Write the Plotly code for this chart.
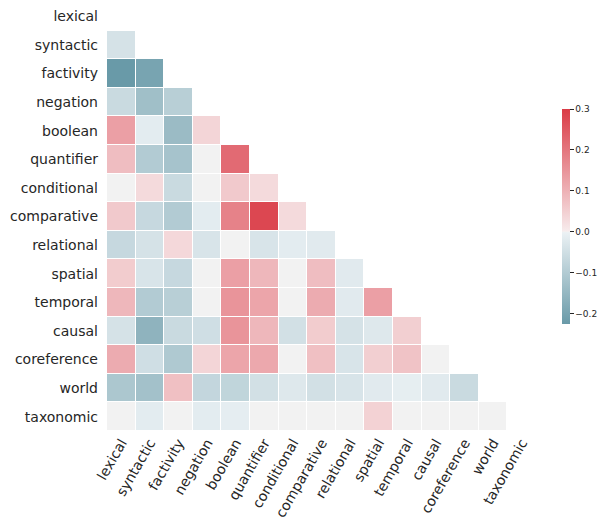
import plotly.graph_objects as go

labels = ["lexical", "syntactic", "factivity", "negation", "boolean", "quantifier",
          "conditional", "comparative", "relational", "spatial", "temporal", "causal",
          "coreference", "world", "taxonomic"]

# lower triangle (row i has i values for columns 0..i-1)
rows = [
    [],
    [-0.04],
    [-0.225, -0.20],
    [-0.06, -0.13, -0.09],
    [0.13, -0.015, -0.14, 0.04],
    [0.08, -0.10, -0.12, 0.0, 0.22],
    [0.0, 0.03, -0.06, 0.0, 0.06, 0.03],
    [0.06, -0.065, -0.10, -0.015, 0.18, 0.28, 0.03],
    [-0.065, -0.04, 0.035, -0.035, 0.0, -0.035, -0.015, -0.02],
    [0.055, -0.035, -0.065, 0.0, 0.13, 0.09, 0.0, 0.08, -0.02],
    [0.09, -0.10, -0.09, 0.0, 0.15, 0.12, 0.0, 0.11, -0.02, 0.13],
    [-0.04, -0.16, -0.06, -0.05, 0.15, 0.09, -0.045, 0.055, -0.04, -0.025, 0.05],
    [0.11, -0.05, -0.105, 0.04, 0.12, 0.115, 0.0, 0.075, -0.035, 0.05, 0.07, 0.0],
    [-0.11, -0.125, 0.075, -0.07, -0.075, -0.045, -0.025, -0.045, -0.035, -0.02, -0.01, -0.02, -0.06],
    [0.0, -0.015, 0.0, -0.015, -0.012, 0.0, 0.0, 0.0, 0.0, 0.045, 0.0, 0.0, 0.0, 0.0],
]

cbar_ticks = [-0.2, -0.1, 0.0, 0.1, 0.2, 0.3]

n = len(labels)
z = []
for i in range(n):
    r = list(rows[i]) + [None] * (n - len(rows[i]))
    z.append(r)

vmin = min(v for r in rows for v in r)
vmax = 0.3
span = max(abs(vmin), vmax)

blue = (61, 125, 143)
tint_b = (236, 242, 245)
mid = (242, 242, 242)
tint_r = (247, 236, 237)
red = (218, 59, 70)


def lerp(a, b, t):
    return tuple(a[k] + (b[k] - a[k]) * t for k in range(3))


def col(v):
    if v < 0:
        t = (v + span) / span
        c = lerp(blue, tint_b, t)
    elif v == 0:
        c = mid
    else:
        t = v / span
        c = lerp(tint_r, red, t)
    return "rgb(%d,%d,%d)" % tuple(round(x) for x in c)


def frac(v):
    return (v - vmin) / (vmax - vmin)

eps = 0.002
cs = [
    [0.0, col(vmin)],
    [frac(-eps), col(-eps)],
    [frac(0), col(0)],
    [frac(eps), col(eps)],
    [1.0, col(vmax)],
]

fig = go.Figure(go.Heatmap(
    z=z, x=labels, y=labels,
    zmin=vmin, zmax=vmax,
    colorscale=cs,
    xgap=1, ygap=1,
    hoverongaps=False,
    colorbar=dict(
        x=1.06, xanchor="left", y=0.5, yanchor="middle", len=0.5,
        thickness=8, outlinewidth=0, xpad=0, ypad=0,
        tickvals=cbar_ticks, tickformat=".1f",
        ticks="outside", ticklen=4, tickcolor="#262626",
        tickfont=dict(size=9, color="#262626", family="DejaVu Sans"),
    ),
))

fig.update_layout(
    width=608, height=518,
    margin=dict(l=107, r=72, t=2, b=87, autoexpand=False),
    plot_bgcolor="white", paper_bgcolor="white",
    font=dict(family="DejaVu Sans", color="#262626", size=14),
    xaxis=dict(tickangle=-60, showgrid=False, zeroline=False, showline=False,
               tickfont=dict(size=14)),
    yaxis=dict(autorange="reversed", showgrid=False, zeroline=False, showline=False,
               tickfont=dict(size=14), ticklabelstandoff=8),
)

fig.write_html("out.html", config={"displayModeBar": False},
               post_script="document.body.style.margin='0';document.body.style.overflow='hidden';")
